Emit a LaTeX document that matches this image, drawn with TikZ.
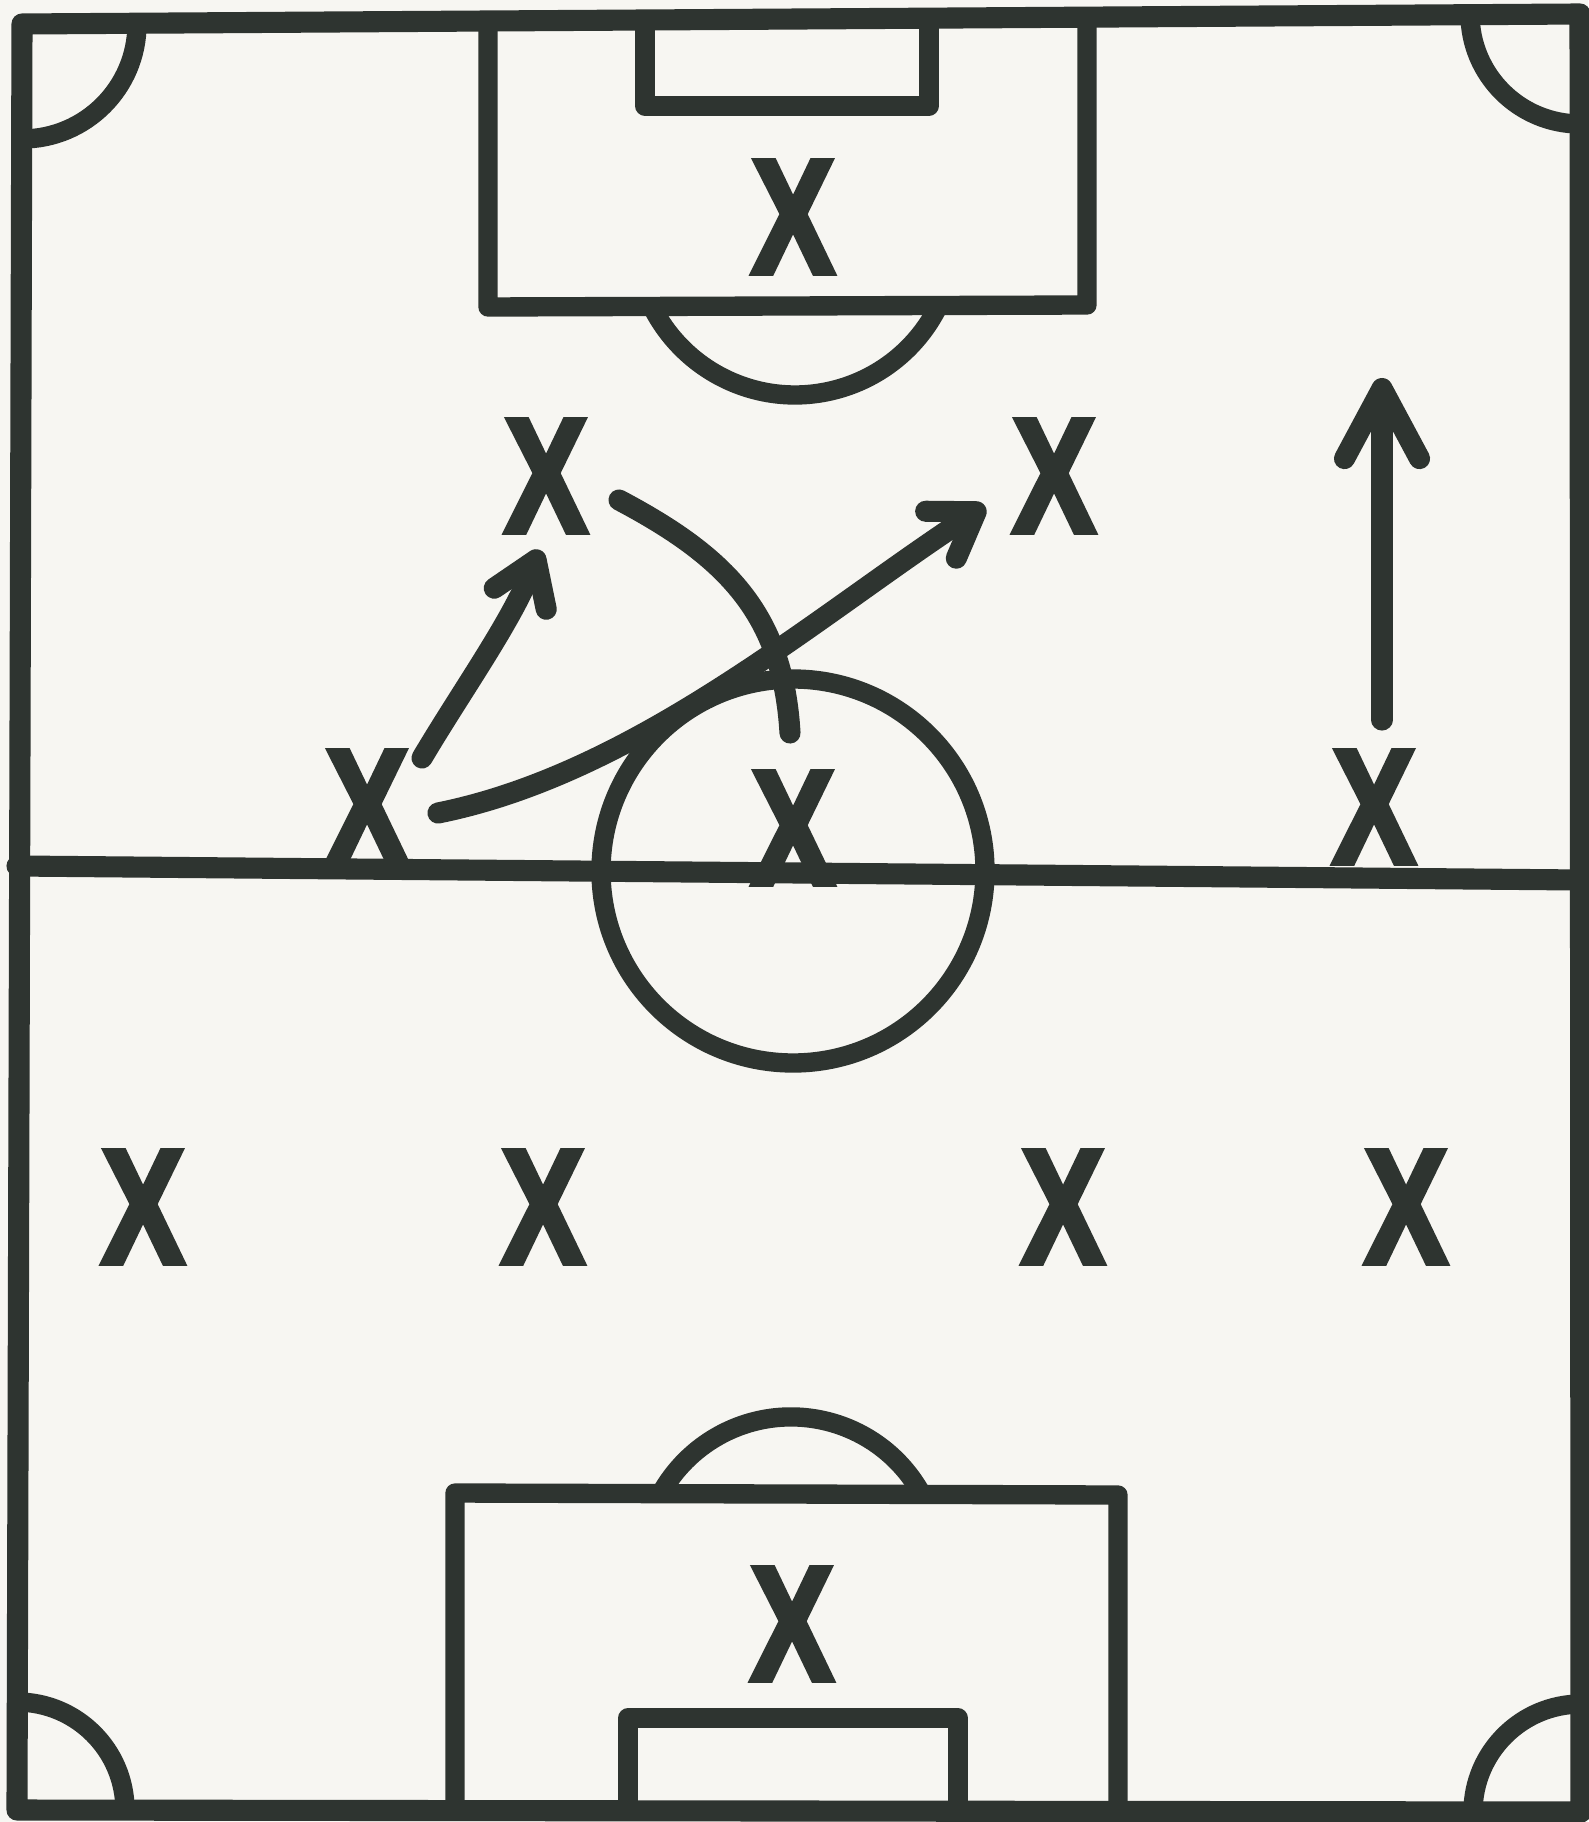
\documentclass[tikz,border=0pt]{standalone}
\usepackage{fontspec}
\newfontfamily\markfont[FakeBold=4]{Liberation Sans Bold}
\usetikzlibrary{arrows.meta}
\definecolor{ink}{HTML}{2E3430}
\definecolor{paper}{HTML}{F7F6F2}
\tikzset{
  pitch/.style={draw=ink, line width=5.5pt, line cap=round, line join=round},
  player/.style={font=\markfont\fontsize{46}{46}\selectfont, text=ink, inner sep=0pt, xscale=0.76},
  run/.style={pitch, line width=6pt, -{Straight Barb[length=4.2mm, width=5.6mm, round]}},
  longrun/.style={pitch, line width=6pt, -{Straight Barb[length=7mm, width=7.5mm, round]}},
}
\newcommand{\player}[3]{\node[player] (#1) at (#2,#3) {X};}

\begin{document}
\begin{tikzpicture}[x=0.01cm, y=-0.01cm]
  \useasboundingbox (0,0) rectangle (1588,1822);
  \fill[paper] (0,0) rectangle (1588,1822);

  % touchlines, halfway line, centre circle
  \draw[pitch, line width=6pt] (22,24) -- (1580,14) -- (1581,1812) -- (17,1810) -- cycle;
  \draw[pitch, line width=6pt] (17,866) -- (1581,880);
  \draw[pitch] (793,871) circle[radius=192];

  % corner arcs
  \draw[pitch] (137,24) arc[start angle=0, end angle=90, radius=115];
  \draw[pitch] (1470,14) arc[start angle=180, end angle=90, radius=110];
  \draw[pitch] (17,1702) arc[start angle=270, end angle=360, radius=108];
  \draw[pitch] (1473,1812) arc[start angle=180, end angle=270, radius=108];

  % top end
  \draw[pitch] (488,21) -- (488,307) -- (1087,305) -- (1087,17);
  \draw[pitch] (645,20) -- (645,106) -- (929,106) -- (929,18);
  \draw[pitch] (937.6,307.6) arc[start angle=27, end angle=153, radius=160];

  % bottom end
  \draw[pitch] (455,1811) -- (455,1493) -- (1118,1495) -- (1118,1812);
  \draw[pitch] (628,1811) -- (628,1718) -- (958,1718) -- (958,1812);
  \draw[pitch] (921,1493) arc[start angle=-29.3, end angle=-150.7, radius=149];

  % players
  \player{keeperA}{793}{217}
  \player{midL}{546}{476}
  \player{midR}{1054}{476}
  \player{wingL}{367}{807}
  \player{centre}{793}{828}
  \player{wingR}{1374}{807}
  \player{backA}{143}{1207}
  \player{backB}{543}{1207}
  \player{backC}{1063}{1207}
  \player{backD}{1406}{1207}
  \player{keeperB}{792}{1624}

  % runs and passes
  \coordinate (passAs) at (422,758);
  \coordinate (passAe) at (540,550);
  \coordinate (passBs) at (438,813);
  \coordinate (passBe) at (985,506);
  \coordinate (moveS) at (619,500);
  \coordinate (moveE) at (790,733);
  \coordinate (sprintS) at (1382,720);
  \coordinate (sprintE) at (1382,378);
  \draw[run] (passAs) .. controls (463,689) and (510,624) .. (passAe);
  \draw[run] (passBs) .. controls (638,773) and (818,615) .. (passBe);
  \draw[pitch, line width=6pt] (moveS) .. controls (725,556) and (783,613) .. (moveE);
  \draw[longrun] (sprintS) -- (sprintE);
\end{tikzpicture}
\end{document}
